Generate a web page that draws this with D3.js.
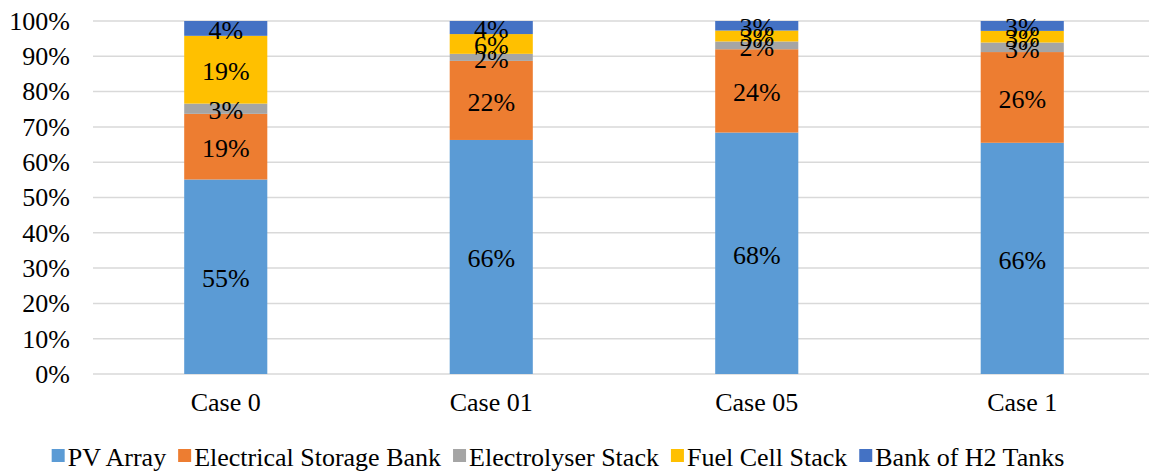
<!DOCTYPE html>
<html>
<head>
<meta charset="utf-8">
<script src="https://cdn.jsdelivr.net/npm/d3@7"></script>
</head>
<body style="margin:0;background:#fff">
<script>
const width = 1149;
const height = 472;

// categories and series (share of total, %)
const cases = ["Case 0", "Case 01", "Case 05", "Case 1"];
const seriesNames = ["PV Array", "Electrical Storage Bank", "Electrolyser Stack", "Fuel Cell Stack", "Bank of H2 Tanks"];
const pvArray = [55.1, 66.3, 68.4, 65.5];
const storageBank = [18.6, 22.4, 23.6, 25.7];
const electrolyser = [2.9, 2.0, 2.2, 2.7];
const fuelCell = [19.2, 5.6, 3.1, 3.3];
const h2Tanks = [4.2, 3.7, 2.7, 2.8];
const yTicks = [0, 10, 20, 30, 40, 50, 60, 70, 80, 90, 100];
const colors = ["#5b9bd5", "#ed7d31", "#a5a5a5", "#ffc000", "#4472c4"];

const seriesValues = [pvArray, storageBank, electrolyser, fuelCell, h2Tanks];
const table = cases.map((c, i) => {
    const row = {case: c};
    seriesNames.forEach((s, j) => row[s] = seriesValues[j][i]);
    return row;
});

const margin = {top: 21, right: -6, bottom: 98, left: 93};
const fontSize = '26px';
const font = 'Liberation Serif';

// apply the serif font straight on each text node
function serif(sel) {
    sel.style('font-family', font)
        .style('font-size', fontSize)
        .attr('fill', '#000');
}

const svg = d3.select('body').append('svg')
    .attr('width', width)
    .attr('height', height);

const x = d3.scaleBand()
    .domain(cases)
    .range([margin.left, width - margin.right])
    .paddingInner(0.687)
    .paddingOuter(0.3435);

const y = d3.scaleLinear()
    .domain([0, 100])
    .range([height - margin.bottom, margin.top]);

// gridlines
svg.append('g')
    .selectAll('line')
    .data(yTicks)
    .enter().append('line')
    .attr('x1', margin.left)
    .attr('x2', width)
    .attr('y1', d => y(d))
    .attr('y2', d => y(d))
    .attr('stroke', '#d9d9d9')
    .attr('stroke-width', 1.5);

// y axis labels
const yAxis = d3.axisLeft(y)
    .tickValues(yTicks)
    .tickFormat(d => d + '%')
    .tickSize(0)
    .tickPadding(23);
svg.append('g')
    .attr('transform', `translate(${margin.left},0)`)
    .call(yAxis)
    .call(g => g.select('.domain').remove())
    .selectAll('text')
    .call(serif);

// x axis labels
const xAxis = d3.axisBottom(x).tickSize(0).tickPadding(19);
svg.append('g')
    .attr('transform', `translate(0,${y(0)})`)
    .call(xAxis)
    .call(g => g.select('.domain').remove())
    .selectAll('text')
    .call(serif);

// stacked bars
const stack = d3.stack().keys(seriesNames);
const layers = stack(table);

const layer = svg.append('g')
    .selectAll('g')
    .data(layers)
    .enter().append('g')
    .attr('fill', (d, i) => colors[i]);

layer.selectAll('rect')
    .data(d => d)
    .enter().append('rect')
    .attr('x', d => x(d.data.case))
    .attr('width', x.bandwidth())
    .attr('y', d => y(d[1]))
    .attr('height', d => y(d[0]) - y(d[1]));

// data labels
const labels = svg.append('g');
layers.forEach(l => {
    l.forEach(d => {
        labels.append('text')
            .attr('x', x(d.data.case) + x.bandwidth() / 2)
            .attr('y', y((d[0] + d[1]) / 2))
            .attr('dy', '0.4em')
            .attr('text-anchor', 'middle')
            .call(serif)
            .text(Math.round(d[1] - d[0]) + '%');
    });
});

// legend
const legend = svg.append('g');
const items = legend.selectAll('g')
    .data(seriesNames)
    .enter().append('g');
items.append('rect')
    .attr('width', 13)
    .attr('height', 13)
    .attr('y', -8)
    .attr('fill', (d, i) => colors[i]);
items.append('text')
    .attr('x', 16)
    .attr('y', 0)
    .attr('dy', '0.35em')
    .call(serif)
    .text(d => d);

let offset = 0;
items.each(function() {
    const w = this.querySelector('text').getComputedTextLength() + 16;
    d3.select(this).attr('transform', `translate(${offset},${height - 15})`);
    offset += w + 12;
});
const legendWidth = offset - 12;
legend.attr('transform', `translate(${558 - legendWidth / 2},0)`);
</script>
</body>
</html>
